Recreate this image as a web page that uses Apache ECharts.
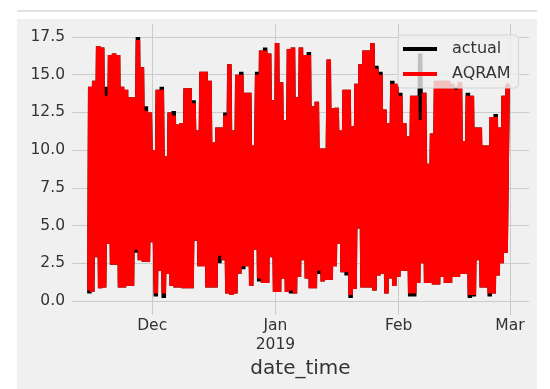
<!DOCTYPE html>
<html lang="en">
<head>
	<meta charset="UTF-8">
	<title>actual vs AQRAM</title>
	<script type="text/javascript" src="https://cdn.jsdelivr.net/npm/echarts@6/dist/echarts.min.js"></script>
	<style type="text/css">
		body{ margin:0; background:#fff; }
		#topline{ position:absolute; left:17px; top:10px; width:520px; height:2px; background:#e3e3e3; }
		#bg{ position:absolute; left:17px; top:19px; width:520px; height:370px; background:#f0f0f0; }
		#main{ position:absolute; left:0; top:0; width:550px; height:389px; }
	</style>
</head>
<body>
	<div id="topline"></div>
	<div id="bg"></div>
	<div id="main"></div>

	<script>
		// one low and one high reading per day, from 2018-11-15 onwards
		var startDate = new Date(2018, 10, 15);
		var monthNames = ['Jan','Feb','Mar','Apr','May','Jun','Jul','Aug','Sep','Oct','Nov','Dec'];

		var aqramHigh = [14.2,14.6,16.9,16.8,13.6,16.3,16.4,16.3,14.2,14.0,13.5,13.5,17.3,15.5,12.6,12.5,10.0,14.0,14.0,9.6,
			12.5,12.3,11.7,11.8,14.1,14.1,13.1,11.3,15.2,15.2,14.6,10.5,11.5,11.5,12.3,15.7,11.3,15.0,15.0,13.8,
			13.8,10.3,15.0,16.6,16.6,16.4,13.3,17.1,14.5,12.0,16.7,16.8,13.5,16.8,16.3,16.3,12.9,13.2,10.1,10.1,
			16.0,12.8,12.8,11.3,14.0,14.0,11.6,14.4,15.7,16.6,16.6,17.1,15.4,15.0,12.7,11.8,14.4,14.4,13.6,11.8,
			10.9,13.6,13.6,12.0,13.8,9.1,11.1,14.6,14.6,14.6,14.6,14.4,14.0,14.5,10.6,13.6,13.6,11.5,11.5,10.3,
			10.3,12.2,12.2,11.5,13.6,14.3];
		var aqramLow = [0.7,0.6,2.9,0.85,0.9,3.8,2.4,2.4,0.9,0.9,1.0,1.0,3.4,2.7,2.6,2.6,3.9,0.5,2.0,0.5,
			1.8,1.0,0.9,0.9,0.85,0.85,0.85,4.0,2.3,2.3,0.9,0.9,0.9,3.0,2.7,0.5,0.4,0.5,1.8,2.3,
			2.3,1.0,3.4,1.5,1.2,1.2,2.9,0.6,0.6,1.5,0.6,0.7,0.5,1.6,2.7,1.5,0.85,0.85,2.0,1.3,
			1.4,1.4,2.3,3.8,1.9,1.9,0.4,0.8,4.8,0.9,0.9,0.9,0.7,1.7,1.8,0.5,1.5,1.0,1.6,2.0,
			2.0,0.5,0.5,1.2,2.5,1.2,1.2,1.1,1.1,1.6,1.2,1.2,1.6,1.6,1.8,1.8,0.4,0.4,2.7,0.9,
			0.9,0.5,0.5,1.7,2.5,3.2];

		var actualHigh = [14.2,14.6,16.9,16.8,14.2,16.3,16.4,16.3,14.2,14.0,13.5,13.5,17.5,15.5,12.9,12.5,10.0,14.0,14.2,9.6,
			12.5,12.6,11.7,11.8,14.1,14.1,13.3,11.3,15.2,15.2,14.6,10.5,11.5,11.5,12.5,15.7,11.3,15.0,15.2,13.8,
			13.8,10.3,15.2,16.6,16.8,16.4,13.3,17.1,14.5,12.0,16.7,16.8,13.5,16.8,16.3,16.5,12.9,13.2,10.1,10.1,
			16.0,12.8,12.8,11.3,14.0,14.0,11.6,14.4,15.7,16.6,16.6,17.1,15.6,15.2,12.7,11.8,14.6,14.4,13.8,11.8,
			10.9,13.6,13.6,16.4,13.8,9.1,11.1,14.6,14.6,14.6,14.6,14.4,14.2,14.5,10.6,13.8,13.6,11.5,11.5,10.3,
			10.3,12.2,12.4,11.5,13.6,14.3];
		var actualLow = [0.5,0.6,2.9,0.85,0.9,3.8,2.4,2.4,0.9,0.9,1.0,1.0,3.2,2.7,2.6,2.6,3.9,0.3,2.0,0.2,
			1.8,1.0,0.9,0.9,0.85,0.85,0.85,4.0,2.3,2.3,0.9,0.9,0.9,2.5,2.7,0.5,0.4,0.5,1.8,2.1,
			2.3,1.0,3.4,1.3,1.2,1.2,2.9,0.6,0.6,1.5,0.6,0.5,0.5,1.6,2.7,1.5,0.85,0.85,1.8,1.3,
			1.4,1.4,2.3,3.8,1.9,1.7,0.2,0.8,4.8,0.9,0.9,0.9,0.7,1.7,1.8,0.5,1.5,1.0,1.6,2.0,
			2.0,0.3,0.3,1.2,2.5,1.2,1.2,1.1,1.1,1.6,1.2,1.2,1.6,1.6,1.8,1.8,0.2,0.3,2.7,0.9,
			0.9,0.3,0.5,1.7,2.5,3.2];

		var DAY = 24 * 3600 * 1000;
		var HOUR = 3600 * 1000;

		function build(lo, hi){
			var out = [];
			for(var i = 0; i < lo.length; i++){
				var t = startDate.getTime() + i * DAY;
				out.push([t + 5 * HOUR, lo[i]]);
				out.push([t + 15 * HOUR, hi[i]]);
			}
			return out;
		}

		var xMin = new Date(2018, 10, 10, 20).getTime();
		var xMax = new Date(2019, 2, 5, 19).getTime();

		function monthLabel(v){
			var d = new Date(v);
			var m = monthNames[d.getMonth()];
			if(d.getMonth() === 0) return m + '\n' + d.getFullYear();
			return m;
		}

		var chart = echarts.init(document.getElementById('main'));
		var option = {
			animation: false,
			textStyle: { fontFamily: 'DejaVu Sans' },
			grid: [
				{ left: 72, right: 21, top: 37, height: 264 },
				{ left: 72, right: 21, top: 24, bottom: 74 }
			],
			legend: {
				orient: 'vertical',
				left: 398, top: 35,
				data: ['actual', 'AQRAM'],
				icon: 'rect',
				itemWidth: 34, itemHeight: 4,
				itemGap: 9,
				padding: [6, 8, 6, 5],
				backgroundColor: 'rgba(240,240,240,0.8)',
				borderColor: '#d4d4d4', borderWidth: 1, borderRadius: 4,
				textStyle: { fontSize: 16, color: '#333', lineHeight: 16, padding: [0, 0, 0, 10] }
			},
			xAxis: [{
				type: 'time', gridIndex: 0,
				min: xMin, max: xMax,
				minInterval: 28 * DAY,
				axisLine: { show: false }, axisTick: { show: false },
				splitLine: { show: false },
				axisLabel: { fontSize: 15.5, color: '#333', margin: 15, lineHeight: 19, formatter: monthLabel, hideOverlap: false },
				name: 'date_time', nameLocation: 'middle', nameGap: 55,
				nameTextStyle: { fontSize: 20, color: '#333' }
			}, {
				type: 'time', gridIndex: 1,
				min: xMin, max: xMax,
				minInterval: 28 * DAY,
				axisLine: { show: false }, axisTick: { show: false },
				axisLabel: { show: false },
				splitLine: { show: true, showMinLine: false, showMaxLine: false, lineStyle: { color: '#cbcbcb', width: 1 } }
			}],
			yAxis: [{
				type: 'value', gridIndex: 0,
				min: 0, max: 17.5, interval: 2.5,
				axisLine: { show: false }, axisTick: { show: false },
				axisLabel: { fontSize: 15.5, color: '#333', margin: 7, formatter: function(v){ return v.toFixed(1); } },
				splitLine: { lineStyle: { color: '#cbcbcb', width: 1 } }
			}, {
				type: 'value', gridIndex: 1, show: false, min: 0, max: 1
			}],
			series: [{
				name: 'actual', type: 'line',
				xAxisIndex: 0, yAxisIndex: 0,
				data: build(actualLow, actualHigh),
				step: 'middle',
				showSymbol: false, clip: false,
				color: '#000',
				lineStyle: { color: '#000', width: 4.5 }
			}, {
				name: 'AQRAM', type: 'line',
				xAxisIndex: 0, yAxisIndex: 0,
				data: build(aqramLow, aqramHigh),
				step: 'middle',
				showSymbol: false, clip: false,
				color: '#ff0000',
				lineStyle: { color: '#ff0000', width: 4.5 }
			}]
		};
		chart.setOption(option);
	</script>
</body>
</html>
